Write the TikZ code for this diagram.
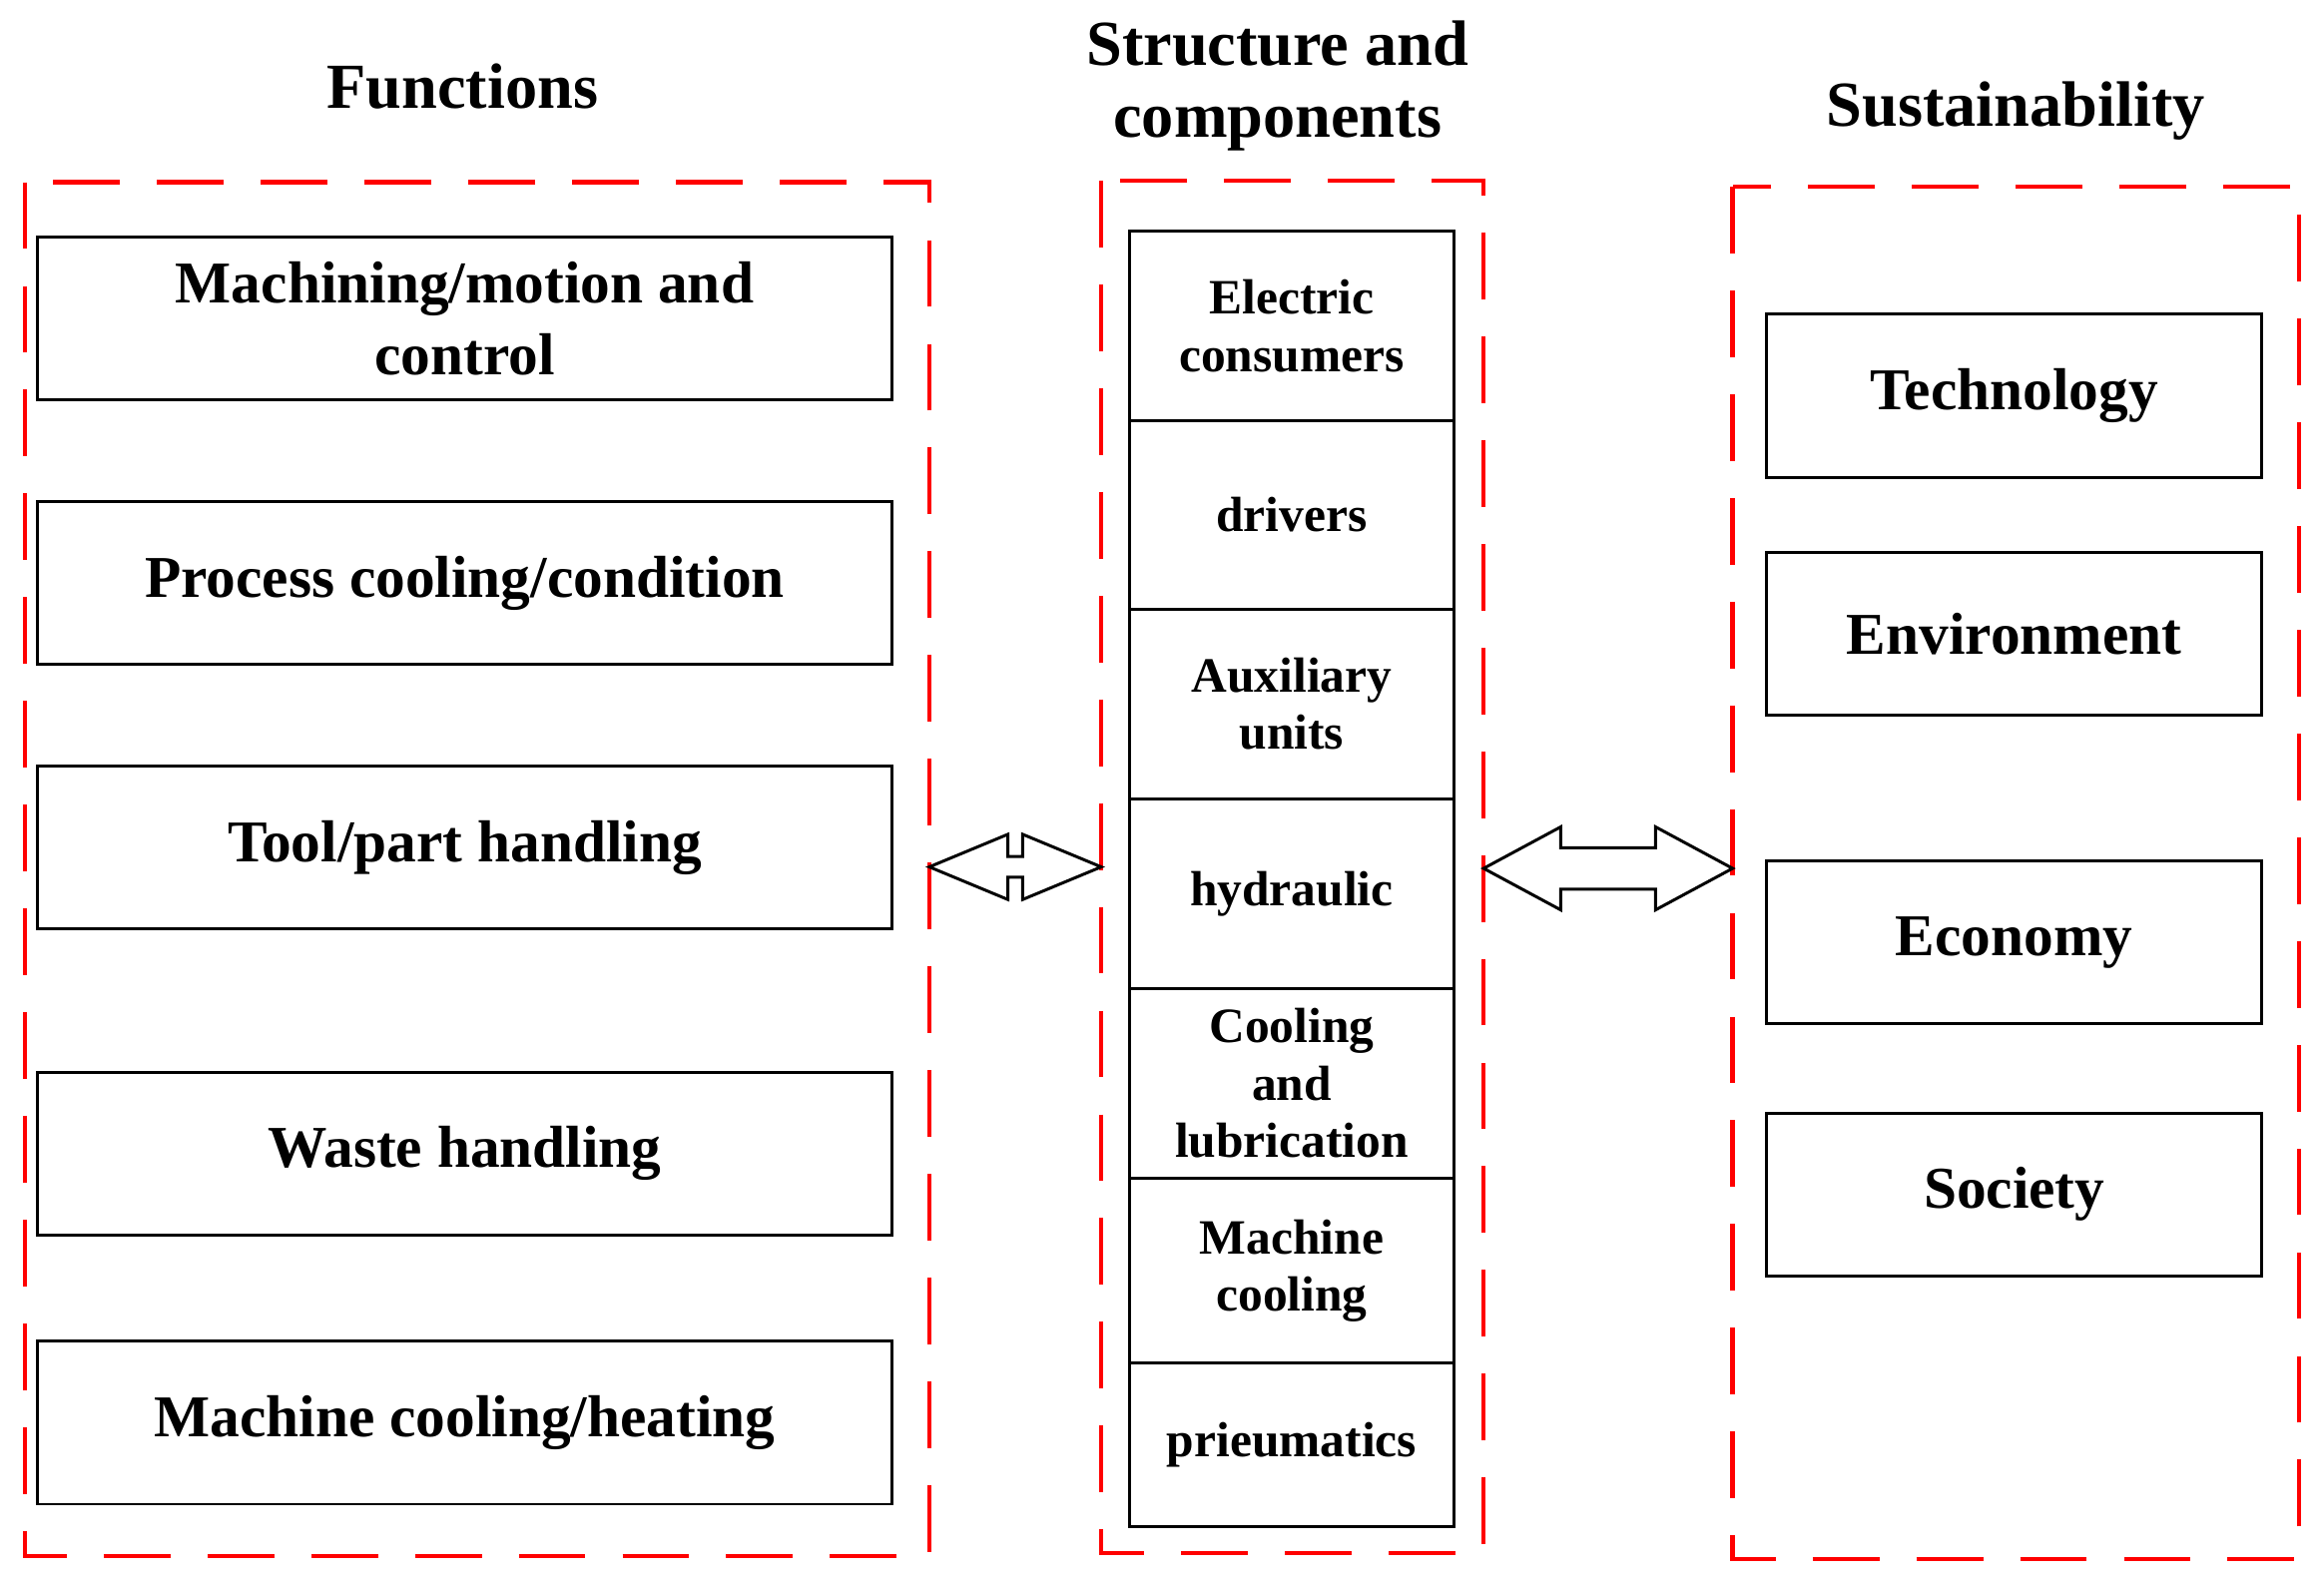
\documentclass[tikz,border=0pt]{standalone}
\usepackage{fontspec}
\setmainfont{Liberation Serif}
\begin{document}
\begin{tikzpicture}[x=0.3pt,y=-0.3pt,
  grp/.style={draw=red,line width=0.9pt,dash pattern=on 13.5pt off 7.5pt},
  box/.style={draw,line width=0.6pt,minimum width=#1,align=center,inner sep=0pt,font=\bfseries\fontsize{12}{14.5}\selectfont},
  cell/.style={draw,line width=0.6pt,minimum width=65.7pt,minimum height=#1,align=center,inner sep=0pt,font=\bfseries\fontsize{10}{11.6}\selectfont},
  ttl/.style={align=center,font=\bfseries\fontsize{13}{14.5}\selectfont},
  dar/.style={draw,line width=0.6pt,fill=white,line join=miter}]
\useasboundingbox (0,0) rectangle (1568,1067);
\node[ttl] (t1) at (312,58) {Functions};
\node[ttl] (t2) at (862,58) {Structure and\\components};
\node[ttl] (t3) at (1360,75) {Sustainability};
\draw[grp] (17,123) rectangle (627,1050);
\draw[grp] (743,122) rectangle (1001,1048);
\draw[grp] (1169,126) rectangle (1551,1052);
\foreach \n/\y/\t in {a/215/{Machining/motion and\\control},b/393.5/{Process cooling/condition},c/572/{Tool/part handling},d/778.5/{Waste handling},e/960/{Machine cooling/heating}}
  \node[box=173.1pt,minimum height=33pt] (\n) at (313.5,\y) {\t};
\foreach \n/\y/\t in {s1/267/Technology,s2/427.5/Environment,s3/636/Economy,s4/806/Society}
  \node[box=100.2pt,minimum height=33pt] (\n) at (1359,\y) {\t};
\foreach \n/\y/\h/\t in {m1/220/38.4pt/{Electric\\consumers},m2/347.5/38.1pt/drivers,m3/475/38.4pt/{Auxiliary\\units},m4/603/38.4pt/hydraulic,m5/731/38.4pt/{Cooling\\and\\lubrication},m6/857.5/37.5pt/{Machine\\cooling},m7/975/33pt/prieumatics}
  \node[cell=\h] (\n) at (871.5,\y) {\t};
\coordinate (la) at (627,585); \coordinate (lb) at (743,585);
\draw[dar] (la) -- ++(53,-22) -- ++(0,15) -- ++(10,0) -- ++(0,-15) -- (lb)
  -- ++(-53,22) -- ++(0,-15) -- ++(-10,0) -- ++(0,15) -- cycle;
\coordinate (ra) at (1001,586); \coordinate (rb) at (1169,586);
\draw[dar] (ra) -- ++(52,-28) -- ++(0,14) -- ++(64,0) -- ++(0,-14) -- (rb)
  -- ++(-52,28) -- ++(0,-14) -- ++(-64,0) -- ++(0,14) -- cycle;
\end{tikzpicture}
\end{document}
